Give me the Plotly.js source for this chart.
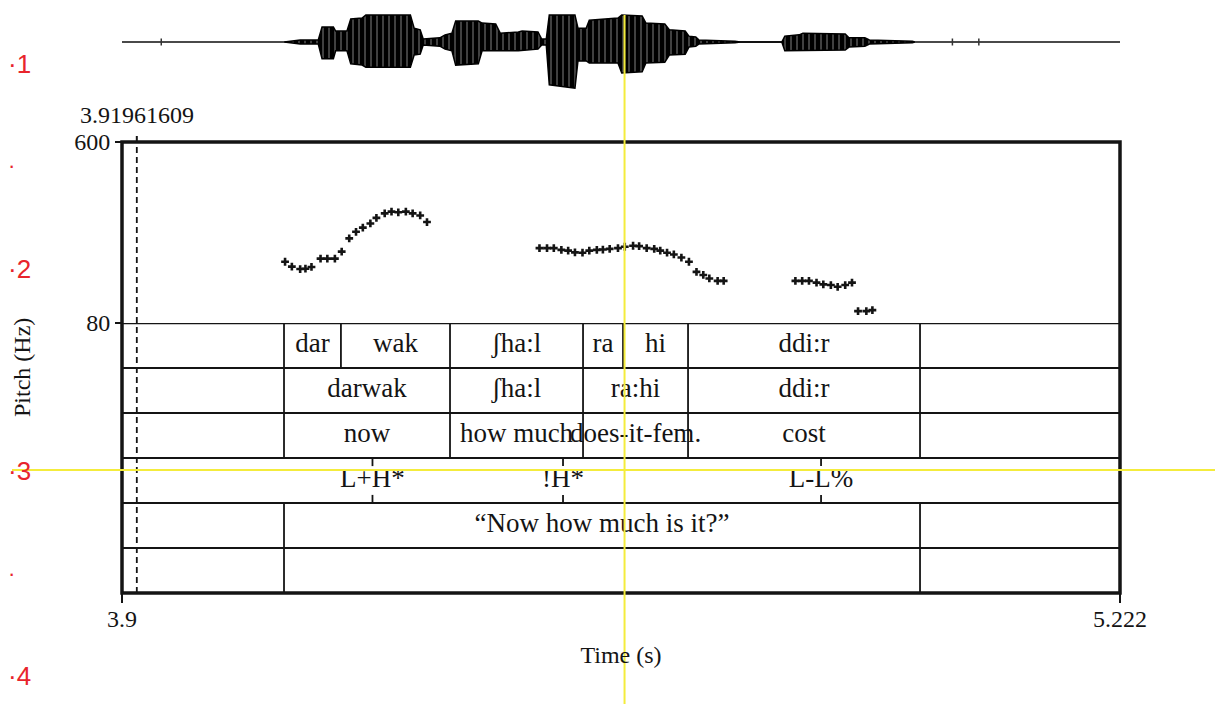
<!DOCTYPE html>
<html>
<head>
<meta charset="utf-8">
<script src="https://cdn.plot.ly/plotly-3.0.1.min.js"></script>
<style>
html,body{margin:0;padding:0;background:#fff;}
#chart{width:1215px;height:704px;}
</style>
</head>
<body>
<div id="chart"></div>
<script>
// ---------- DATA ----------
// Time axis (s)
const timeRange = [3.9, 5.222];
const timeTickVals = [3.9, 5.222];
const timeTickText = ['3.9', '5.222'];
const cursorTime = 3.91961609;
const cursorLabel = '3.91961609';

// Pitch axis (Hz)
const pitchRange = [80, 600];
const pitchTickVals = [80, 600];
const pitchTickText = ['80', '600'];

// Pitch track (s, Hz)
const pitchTime = [4.116,4.125,4.136,4.143,4.151,4.163,4.172,4.182,4.191,4.201,4.210,4.219,4.229,4.237,4.248,4.257,4.266,4.276,4.285,4.295,4.304,
  4.453,4.463,4.472,4.482,4.491,4.500,4.510,4.519,4.529,4.537,4.546,4.557,4.566,4.577,4.585,4.595,4.605,4.613,4.622,4.631,4.641,4.651,4.661,4.670,4.678,4.689,4.697,
  4.792,4.801,4.810,4.820,4.829,4.839,4.848,4.858,4.867,
  4.875,4.886,4.894];
const pitchHz = [256,242,235,236,241,265,265,265,285,323,342,354,366,382,395,400,398,400,395,389,370,
  295,295,295,290,288,283,282,288,290,291,293,295,299,302,301,295,293,288,282,277,268,256,227,218,208,201,201,
  201,201,201,196,191,189,184,189,196,
  114,114,117];

// Waveform envelope (s, relative amplitude)
const waveTime = [4.115,4.136,4.160,4.165,4.180,4.183,4.198,4.203,4.218,4.223,4.282,4.287,4.295,4.299,4.321,4.328,4.337,4.342,4.372,4.377,4.395,4.401,4.425,4.430,4.451,4.456,4.462,4.466,4.500,4.504,4.515,4.519,4.557,4.562,4.589,4.594,4.619,4.625,4.646,4.651,4.660,4.664,4.712,4.719,4.774,4.778,4.797,4.802,4.858,4.863,4.884,4.890,4.947,4.950];
const waveTop = [0,0.05,0.05,0.36,0.36,0.26,0.26,0.55,0.57,0.64,0.64,0.33,0.29,0.07,0.10,0.17,0.21,0.50,0.50,0.45,0.43,0.21,0.24,0.26,0.24,0.07,0.07,0.64,0.64,0.33,0.33,0.52,0.57,0.64,0.62,0.45,0.43,0.29,0.26,0.14,0.12,0.05,0.02,0,0,0.14,0.17,0.21,0.19,0.10,0.10,0.05,0.02,0];
const waveBottom = [0,-0.05,-0.05,-0.40,-0.40,-0.21,-0.21,-0.52,-0.55,-0.60,-0.60,-0.31,-0.29,-0.07,-0.10,-0.17,-0.21,-0.55,-0.52,-0.21,-0.21,-0.21,-0.21,-0.19,-0.17,-0.07,-0.07,-1.02,-1.10,-0.45,-0.45,-0.50,-0.50,-0.74,-0.71,-0.50,-0.48,-0.31,-0.29,-0.12,-0.10,-0.05,-0.02,0,0,-0.21,-0.21,-0.21,-0.19,-0.12,-0.10,-0.05,-0.02,0];
const waveClickTime = [3.952, 5.000, 5.035];

// TextGrid tiers
const syllableBounds = [4.1146, 4.190, 4.3345, 4.5107, 4.5637, 4.6498, 4.9571];
const syllableLabels = ['dar', 'wak', 'ʃha:l', 'ra', 'hi', 'ddi:r'];
const wordBounds = [4.1146, 4.3345, 4.5107, 4.6498, 4.9571];
const wordLabels = ['darwak', 'ʃha:l', 'ra:hi', 'ddi:r'];
const glossBounds = [4.1146, 4.3345, 4.5107, 4.6498, 4.9571];
const glossLabels = ['now', 'how much', 'does-it-fem.', 'cost'];
const toneTimes = [4.2318, 4.4842, 4.826];
const toneLabels = ['L+H*', '!H*', 'L-L%'];
const translationBounds = [4.1146, 4.9571];
const translationLabels = ['\u201CNow how much is it?\u201D'];
const emptyBounds = [4.1146, 4.9571];
const emptyLabels = [''];

// Editor cursor (yellow) and page ruler marks
const editorCursorTime = 4.5657;
const rulerLabels = ['\u00B71', '\u00B72', '\u00B73', '\u00B74'];

// ---------- STYLE / LAYOUT ----------
const W = 1215, H = 704, L = 122, R = 1120;
const py = p => 1 - p / H;            // page pixel row -> paper y
const pxp = p => (p - L) / (R - L);   // page pixel col -> paper x
const INK = '#141414';
const SERIF = '"Liberation Serif", "Times New Roman", serif';
const SANS = '"Liberation Sans", Arial, sans-serif';
const RED = '#e8242c';
const YELLOW = '#f4ec3c';
const TIER_FONT = 27;

const traces = [];
const shapes = [];
const annotations = [];

// waveform
traces.push({
  type: 'scatter', mode: 'lines', xaxis: 'x', yaxis: 'y3',
  x: timeRange, y: [0, 0], line: {color: '#4a4a4a', width: 2},
  hoverinfo: 'skip', showlegend: false
});
traces.push({
  type: 'scatter', mode: 'lines', xaxis: 'x', yaxis: 'y3',
  x: waveTime.concat(waveTime.slice().reverse()),
  y: waveTop.concat(waveBottom.slice().reverse()),
  fill: 'toself', fillcolor: '#000',
  fillpattern: {shape: '|', bgcolor: '#000', fgcolor: '#d8d8d8', size: 6, solidity: 0.1},
  line: {color: '#000', width: 1.5},
  hoverinfo: 'skip', showlegend: false
});
traces.push({
  type: 'scatter', mode: 'markers', xaxis: 'x', yaxis: 'y3',
  x: waveClickTime, y: waveClickTime.map(() => 0),
  marker: {symbol: 'line-ns', size: 5, line: {color: '#333', width: 1.5}},
  hoverinfo: 'skip', showlegend: false
});

// pitch
traces.push({
  type: 'scatter', mode: 'markers', xaxis: 'x', yaxis: 'y',
  x: pitchTime, y: pitchHz,
  marker: {symbol: 'cross', size: 6.5, color: INK},
  hoverinfo: 'skip', showlegend: false
});

// tier grid lines
for (let r = 0; r < 6; r++) {
  shapes.push({type: 'line', xref: 'paper', yref: 'y2', x0: 0, x1: 1, y0: r, y1: r,
    line: {color: INK, width: r === 0 ? 2.5 : 2}});
}

function intervalTier(bounds, labels, row) {
  bounds.forEach(b => shapes.push({type: 'line', xref: 'x', yref: 'y2', x0: b, x1: b, y0: row, y1: row + 1,
    line: {color: INK, width: 1.8}}));
  const mids = labels.map((_, i) => (bounds[i] + bounds[i + 1]) / 2);
  traces.push({
    type: 'scatter', mode: 'text', xaxis: 'x', yaxis: 'y2',
    x: mids, y: labels.map(() => row + 0.5), text: labels,
    textposition: 'middle center', cliponaxis: false,
    textfont: {family: SERIF, size: TIER_FONT, color: INK},
    hoverinfo: 'skip', showlegend: false
  });
}
function pointTier(times, labels, row) {
  times.forEach(t => {
    shapes.push({type: 'line', xref: 'x', yref: 'y2', x0: t, x1: t, y0: row, y1: row + 0.18, line: {color: INK, width: 1.8}});
    shapes.push({type: 'line', xref: 'x', yref: 'y2', x0: t, x1: t, y0: row + 0.82, y1: row + 1, line: {color: INK, width: 1.8}});
  });
  traces.push({
    type: 'scatter', mode: 'text', xaxis: 'x', yaxis: 'y2',
    x: times, y: labels.map(() => row + 0.5), text: labels,
    textposition: 'middle center', cliponaxis: false,
    textfont: {family: SERIF, size: TIER_FONT, color: INK},
    hoverinfo: 'skip', showlegend: false
  });
}
intervalTier(syllableBounds, syllableLabels, 0);
intervalTier(wordBounds, wordLabels, 1);
intervalTier(glossBounds, glossLabels, 2);
pointTier(toneTimes, toneLabels, 3);
intervalTier(translationBounds, translationLabels, 4);
intervalTier(emptyBounds, emptyLabels, 5);

// outer frame
shapes.push({type: 'rect', xref: 'paper', yref: 'paper', x0: 0, x1: 1, y0: py(593), y1: py(142),
  line: {color: INK, width: 3.5}});

// dashed cursor with top tick
shapes.push({type: 'line', xref: 'x', yref: 'paper', x0: cursorTime, x1: cursorTime, y0: py(593), y1: py(142),
  line: {color: INK, width: 1.8, dash: '6px,4px'}});
shapes.push({type: 'line', xref: 'x', yref: 'paper', x0: cursorTime, x1: cursorTime, y0: py(142), y1: py(136),
  line: {color: INK, width: 2}});
annotations.push({xref: 'x', yref: 'paper', x: cursorTime, y: py(115), text: cursorLabel, showarrow: false,
  xanchor: 'center', yanchor: 'middle', font: {family: SERIF, size: 24, color: INK}});

// Pitch label
annotations.push({xref: 'paper', yref: 'paper', x: pxp(22), y: py(368), text: 'Pitch (Hz)', textangle: -90,
  showarrow: false, xanchor: 'center', yanchor: 'middle', font: {family: SERIF, size: 24, color: INK}});

// ruler marks
const rulerRows = [64, 269, 471, 676];
rulerLabels.forEach((t, i) => annotations.push({xref: 'paper', yref: 'paper', x: pxp(6), y: py(rulerRows[i]),
  text: t, showarrow: false, xanchor: 'left', yanchor: 'middle', font: {family: SANS, size: 26, color: RED}}));
[165, 573].forEach(r => annotations.push({xref: 'paper', yref: 'paper', x: pxp(6), y: py(r),
  text: '\u00B7', showarrow: false, xanchor: 'left', yanchor: 'middle', font: {family: SANS, size: 22, color: RED}}));

// yellow editor cursors
shapes.push({type: 'line', xref: 'x', yref: 'paper', x0: editorCursorTime, x1: editorCursorTime, y0: 0, y1: py(15),
  line: {color: YELLOW, width: 2}});
shapes.push({type: 'line', xref: 'paper', yref: 'paper', x0: pxp(12), x1: pxp(1215), y0: py(470), y1: py(470),
  line: {color: YELLOW, width: 2}});

const layout = {
  width: W, height: H,
  margin: {l: L, r: W - R, t: 0, b: 0, pad: 0},
  paper_bgcolor: '#fff', plot_bgcolor: 'rgba(0,0,0,0)',
  showlegend: false, hovermode: false,
  font: {family: SERIF, color: INK, size: 24},
  xaxis: {
    range: timeRange, anchor: 'y2', tickmode: 'array', tickvals: timeTickVals, ticktext: timeTickText,
    ticks: 'outside', ticklen: 9, tickwidth: 2, tickcolor: INK, showgrid: false, zeroline: false, showline: false,
    ticklabelstandoff: -5,
    tickfont: {family: SERIF, size: 24, color: INK},
    title: {text: 'Time (s)', font: {family: SERIF, size: 24, color: INK}, standoff: 15}
  },
  yaxis: {
    domain: [py(323), py(142)], range: pitchRange, anchor: 'x',
    tickmode: 'array', tickvals: pitchTickVals, ticktext: pitchTickText,
    ticks: 'outside', ticklen: 6, tickwidth: 2, tickcolor: INK, showgrid: false, zeroline: false, showline: false,
    tickfont: {family: SERIF, size: 24, color: INK}
  },
  yaxis2: {
    domain: [py(593), py(323)], range: [6, 0], anchor: 'x',
    showticklabels: false, ticks: '', showgrid: false, zeroline: false, showline: false
  },
  yaxis3: {
    domain: [py(94), 1], range: [-1.238, 1], anchor: 'x',
    showticklabels: false, ticks: '', showgrid: false, zeroline: false, showline: false
  },
  shapes: shapes,
  annotations: annotations
};

Plotly.newPlot('chart', traces, layout, {displayModeBar: false, staticPlot: true});
</script>
</body>
</html>
